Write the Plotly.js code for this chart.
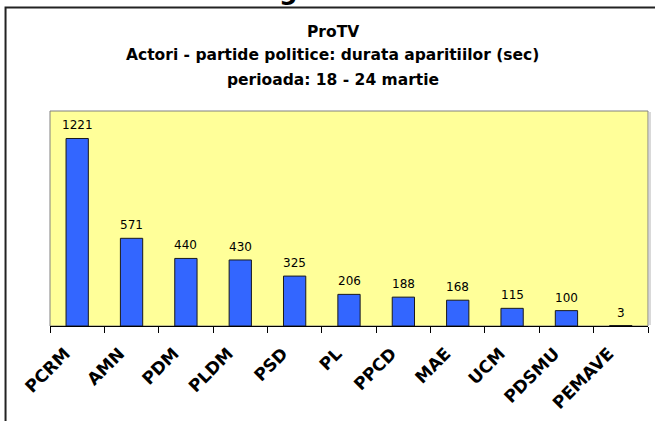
<!DOCTYPE html>
<html>
<head>
<meta charset="utf-8">
<script src="https://cdn.plot.ly/plotly-3.0.1.min.js"></script>
<style>html,body{margin:0;padding:0;background:#fff;}#chart{width:655px;height:421px;}</style>
</head>
<body>
<div id="chart"></div>
<script>
const categories = ["PCRM","AMN","PDM","PLDM","PSD","PL","PPCD","MAE","UCM","PDSMU","PEMAVE"];
const values = [1221,571,440,430,325,206,188,168,115,100,3];
const titleLines = ["ProTV","Actori - partide politice: durata aparitiilor (sec)","perioada: 18 - 24 martie"];

// layout geometry (pixels)
const W = 655, H = 421;
const L = 50, R = 6.5, T = 111, B = 95;
const plotW = W - L - R, plotH = H - T - B;
const px = x => (x - L) / plotW;
const py = y => (H - B - y) / plotH;

const titleY = [32, 55.5, 79.5];
const annotations = titleLines.map((t, i) => ({
  text: "<b>" + t + "</b>", xref: "paper", yref: "paper",
  x: px(333), y: py(titleY[i]), xanchor: "center", yanchor: "middle",
  showarrow: false, font: {family: "DejaVu Sans", size: 15.5, color: "#000"}
}));
// value labels above bars
categories.forEach((c, i) => {
  annotations.push({
    x: c, y: values[i], xref: "x", yref: "y", text: String(values[i]),
    showarrow: false, yanchor: "bottom", yshift: 4,
    font: {family: "DejaVu Sans", size: 12, color: "#000"}
  });
});
// partial heading descender above frame
annotations.push({
  text: "<b>g</b>", xref: "paper", yref: "paper", x: px(289), y: py(-10),
  xanchor: "center", yanchor: "middle", showarrow: false,
  font: {family: "DejaVu Sans", size: 26, color: "#000"}
});

const data = [{
  type: "bar", x: categories, y: values,
  marker: {color: "#3366FF", line: {color: "#1a1a1a", width: 1}},
  hoverinfo: "skip"
}];

const layout = {
  width: W, height: H,
  margin: {l: L, r: R, t: T, b: B, pad: 0},
  paper_bgcolor: "#ffffff", plot_bgcolor: "#FFFF99",
  showlegend: false, bargap: 0.59,
  font: {family: "DejaVu Sans", color: "#000"},
  xaxis: {
    type: "category", tickangle: -45, ticks: "outside", ticklen: 6, tickcolor: "#000",
    tickson: "boundaries", showline: true, linecolor: "#000", linewidth: 1,
    ticklabelstandoff: 10, ticklabelshift: -12,
    tickfont: {family: "DejaVu Sans", size: 17, color: "#000", weight: "bold"},
    showgrid: false, zeroline: false, fixedrange: true
  },
  yaxis: {
    range: [0, 1400], showticklabels: false, ticks: "", showgrid: false,
    zeroline: false, showline: false, fixedrange: true
  },
  shapes: [
    {type: "rect", xref: "paper", yref: "paper", x0: 0, x1: 1, y0: 0, y1: 1,
     line: {color: "#808080", width: 1}, layer: "below"},
    {type: "line", xref: "paper", yref: "paper", x0: px(650.5), x1: px(650.5), y0: py(325), y1: py(112),
     line: {color: "#cccccc", width: 1.5}},
    {type: "rect", xref: "paper", yref: "paper", x0: px(5.5), x1: px(680), y0: py(440), y1: py(7.5),
     line: {color: "#222222", width: 2}}
  ],
  annotations: annotations
};

Plotly.newPlot("chart", data, layout, {displayModeBar: false, staticPlot: true});
</script>
</body>
</html>
